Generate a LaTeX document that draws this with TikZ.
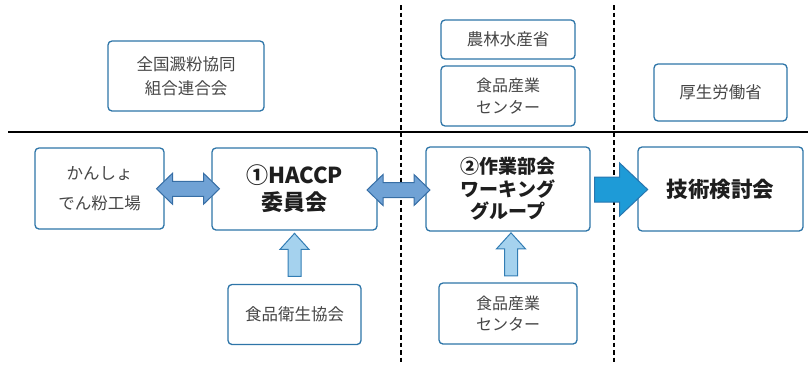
\documentclass[tikz,border=0pt]{standalone}
\usepackage{fontspec}
\setmainfont{Noto Sans CJK JP}
\usetikzlibrary{calc}
\definecolor{boxc}{RGB}{46,117,168}
\definecolor{dblfill}{RGB}{112,162,213}
\definecolor{dbldraw}{RGB}{55,110,165}
\definecolor{bigfill}{RGB}{30,155,215}
\definecolor{bigdraw}{RGB}{40,118,175}
\definecolor{upfill}{RGB}{165,210,238}
\definecolor{updraw}{RGB}{50,125,180}
\definecolor{txt}{RGB}{70,70,70}
\definecolor{btxt}{RGB}{30,30,30}
\tikzset{
  box/.style={draw=boxc, line width=1.3pt, rounded corners=4pt, fill=white, align=center, inner sep=0pt},
  reg/.style={box, text=txt, font=\fontsize{16.5}{24}\selectfont},
  bold/.style={box, text=btxt, font=\fontsize{21}{27}\selectfont\bfseries},
  dbl/.style={fill=dblfill, draw=dbldraw, line width=1pt, line join=miter},
  big/.style={fill=bigfill, draw=bigdraw, line width=1pt, line join=miter},
  up/.style={fill=upfill, draw=updraw, line width=1pt, line join=miter},
  divider/.style={black, line width=2.8pt},
  sep/.style={black, line width=1.1pt, dash pattern=on 4.5pt off 3pt}
}
\begin{document}
\begin{tikzpicture}[x=1pt, y=-1pt]
\useasboundingbox (0,0) rectangle (808,365);
% divider lines
\coordinate (hl) at (8,132);
\coordinate (hr) at (808,132);
\draw[divider] (hl) -- (hr);
\coordinate (v1t) at (401,5);
\coordinate (v1b) at (401,365);
\coordinate (v2t) at (614,5);
\coordinate (v2b) at (614,365);
\draw[sep] (v1t) -- (v1b);
\draw[sep] (v2t) -- (v2b);
% upper boxes
\node[reg, minimum width=156pt, minimum height=70pt] (zen) at (186,76) {全国澱粉協同\\組合連合会};
\node[reg, minimum width=134pt, minimum height=39pt] (nourin) at (508,39.5) {農林水産省};
\node[reg, minimum width=134pt, minimum height=60pt, font=\fontsize{16}{22}\selectfont] (shok1) at (508,96) {食品産業\\センター};
\node[reg, minimum width=133pt, minimum height=57pt] (kousei) at (720.5,92.5) {厚生労働省};
% lower boxes
\node[reg, minimum width=129pt, minimum height=81pt, font=\fontsize{16.5}{30}\selectfont] (kansho) at (99.5,188.5) {かんしょ\\でん粉工場};
\node[bold, minimum width=165pt, minimum height=82pt, font=\fontsize{22}{27}\selectfont\bfseries] (haccp) at (294.5,189) {①HACCP\\委員会};
\node[bold, minimum width=164pt, minimum height=84pt, font=\fontsize{19}{22.5}\selectfont\bfseries] (sagyo) at (508,189) {②作業部会\\ワーキング\\グループ};
\node[bold, minimum width=165pt, minimum height=84pt, font=\fontsize{21.5}{24}\selectfont\bfseries] (gijutsu) at (720.5,189) {技術検討会};
\node[reg, minimum width=133pt, minimum height=60pt] (eisei) at (294.5,314.5) {食品衛生協会};
\node[reg, minimum width=138pt, minimum height=61pt, font=\fontsize{16}{21}\selectfont] (shok2) at (508,313.5) {食品産業\\センター};
% double arrows
\coordinate (m1) at ($(kansho.east)!0.5!(haccp.west)$);
\draw[dbl, shift={(m1)}] (-31.5,0) -- (-15.5,-15.5) -- (-15.5,-7.5) -- (15.5,-7.5) -- (15.5,-15.5) -- (31.5,0) -- (15.5,15.5) -- (15.5,7.5) -- (-15.5,7.5) -- (-15.5,15.5) -- cycle;
\coordinate (m2) at ($($(haccp.east)!0.5!(sagyo.west)$)+(-3,1)$);
\draw[dbl, shift={(m2)}] (-31.5,0) -- (-15.5,-15.5) -- (-15.5,-7.5) -- (15.5,-7.5) -- (15.5,-15.5) -- (31.5,0) -- (15.5,15.5) -- (15.5,7.5) -- (-15.5,7.5) -- (-15.5,15.5) -- cycle;
% big arrow
\coordinate (b1) at ($(sagyo.east)+(4,0.5)$);
\draw[big, shift={(b1)}] (0,-12.5) -- (25,-12.5) -- (25,-26.5) -- (53,0) -- (25,26.5) -- (25,12.5) -- (0,12.5) -- cycle;
% up arrows
\coordinate (u1) at ($(eisei.north)+(0,-7.5)$);
\draw[up, shift={(u1)}] (-6.5,0) -- (-6.5,-27) -- (-14.5,-27) -- (0,-43) -- (14.5,-27) -- (6.5,-27) -- (6.5,0) -- cycle;
\coordinate (u2) at ($(shok2.north)+(3,-6.5)$);
\draw[up, shift={(u2)}] (-6.5,0) -- (-6.5,-27) -- (-14.5,-27) -- (0,-43) -- (14.5,-27) -- (6.5,-27) -- (6.5,0) -- cycle;
\end{tikzpicture}
\end{document}
